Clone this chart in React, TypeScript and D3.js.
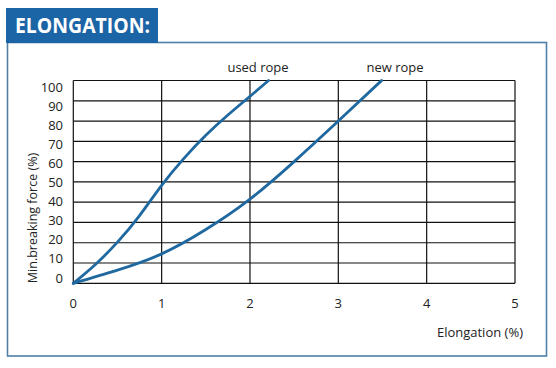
import React from "react";
import * as d3 from "d3";

const xTicks = [0, 1, 2, 3, 4, 5];
const yTicks = [0, 10, 20, 30, 40, 50, 60, 70, 80, 90, 100];
const usedElong = [0, 0.25, 0.5, 0.75, 1.0, 1.25, 1.5, 1.75, 2.0, 2.21];
const usedForce = [0, 9.3, 20.3, 33.4, 48.3, 61.5, 73, 83, 92.2, 100];
const newElong = [0, 0.5, 1.0, 1.5, 2.0, 2.5, 3.0, 3.49];
const newForce = [0, 6.5, 14.5, 26.5, 41.5, 60, 80, 100];
const seriesLabels = ["used rope", "new rope"];
const title = "ELONGATION:";
const xTitle = "Elongation (%)";
const yTitle = "Min.breaking force (%)";

const FONT = "'Open Sans', 'Noto Sans', sans-serif";
const BLUE = "#1b64a5";
const LINE = "#1f68a0";

export default function App() {
  const x = d3.scaleLinear().domain([0, 5]).range([73.3, 515]);
  const y = d3.scaleLinear().domain([0, 100]).range([283.3, 80.5]);
  const yLab = d3.scaleLinear().domain([0, 100]).range([278, 87]);
  const line = d3
    .line<[number, number]>()
    .x((d) => x(d[0]))
    .y((d) => y(d[1]))
    .curve(d3.curveNatural);
  const used = usedElong.map((e, i) => [e, usedForce[i]] as [number, number]);
  const nw = newElong.map((e, i) => [e, newForce[i]] as [number, number]);

  return (
    <svg
      width={556}
      height={368}
      style={{ position: "absolute", left: 0, top: 0, background: "#fff" }}
      fontFamily={FONT}
    >
      <rect x={0} y={0} width={556} height={368} fill="#fff" />
      {/* frame */}
      <rect x={7.5} y={42.5} width={539} height={313.5} fill="none" stroke="#4f7fa6" strokeWidth={1.6} />
      <rect x={6} y={8} width={152} height={35} fill={BLUE} />
      <text x={15} y={32.5} fill="#fff" fontSize={21.5} fontWeight={700} textLength={135} lengthAdjust="spacingAndGlyphs" fontFamily="'Open Sans', sans-serif">
        {title}
      </text>
      {/* grid */}
      {yTicks.map((t) => (
        <line key={"h" + t} x1={x(0)} x2={x(5)} y1={y(t)} y2={y(t)} stroke="#111" strokeWidth={1.2} />
      ))}
      {xTicks.map((t) => (
        <line key={"v" + t} x1={x(t)} x2={x(t)} y1={y(0)} y2={y(100)} stroke="#111" strokeWidth={1.2} />
      ))}
      {/* y labels */}
      {yTicks.map((t) => (
        <text key={"yl" + t} x={63} y={yLab(t)} dy="0.35em" textAnchor="end" fontSize={13} fill="#222">
          {t}
        </text>
      ))}
      {xTicks.map((t) => (
        <text key={"xl" + t} x={x(t)} y={303} dy="0.35em" textAnchor="middle" fontSize={13} fill="#222">
          {t}
        </text>
      ))}
      <text x={523} y={332} dy="0.35em" textAnchor="end" fontSize={13} fill="#222">
        {xTitle}
      </text>
      <text
        transform={`translate(33,218) rotate(-90)`}
        textAnchor="middle"
        dy="0.35em"
        fontSize={12.5}
        fill="#222"
      >
        {yTitle}
      </text>
      {/* curves */}
      <path d={line(used) || ""} fill="none" stroke={LINE} strokeWidth={2.8} strokeLinecap="round" />
      <path d={line(nw) || ""} fill="none" stroke={LINE} strokeWidth={2.8} strokeLinecap="round" />
      <text x={258} y={67} dy="0.35em" textAnchor="middle" fontSize={13} fill="#222">
        {seriesLabels[0]}
      </text>
      <text x={395} y={67} dy="0.35em" textAnchor="middle" fontSize={13} fill="#222">
        {seriesLabels[1]}
      </text>
    </svg>
  );
}
